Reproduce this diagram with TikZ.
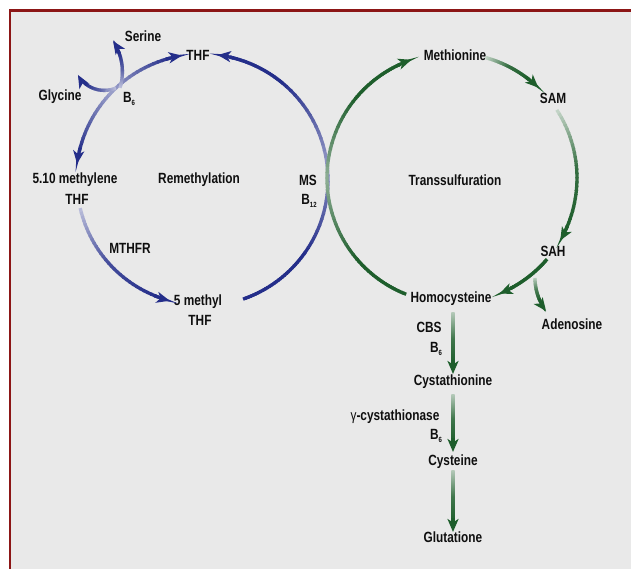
\documentclass[tikz,border=0pt]{standalone}
\usepackage{fontspec}
\setmainfont{Liberation Sans}[FakeStretch=0.8]
\usetikzlibrary{arrows.meta,calc}
\definecolor{bC}{RGB}{36,46,138}
\definecolor{gC}{RGB}{30,94,44}
\definecolor{bgC}{RGB}{233,233,233}
\definecolor{frC}{RGB}{140,22,22}
\definecolor{txC}{RGB}{15,15,15}
\tikzset{
  lbl/.style={font=\bfseries\fontsize{14.8}{16}\selectfont, text=txC, inner sep=1pt},
  tipst/.style={-{Stealth[length=13pt,width=11pt,inset=3.5pt]}, line width=3.3pt}
}
% gradient arc: #1 colour, #2 centre, #3 radius, #4 a0, #5 a1, #6 p0, #7 pmid, #8 p1, #9 arrows (0,1 end,2 both)
\newcommand\garc[9]{%
  \pgfmathsetmacro\gsg{sign(#5-#4)}%
  \pgfmathsetmacro\gda{12/#3*180/pi}%
  \pgfmathsetmacro\gbeg{#4+((#9>1)?(\gsg*\gda):0)}%
  \pgfmathsetmacro\gend{#5-((#9>0)?(\gsg*\gda):0)}%
  \foreach \k in {1,...,30}{%
    \pgfmathsetmacro\gxa{\gbeg+(\gend-\gbeg)*(\k-1)/30}%
    \pgfmathsetmacro\gxb{\gbeg+(\gend-\gbeg)*\k/30+((\k<30)?(0.6*\gsg):0)}%
    \pgfmathsetmacro\gfr{(\k-0.5)/30}%
    \pgfmathsetmacro\gpc{(\gfr<0.5)?(#6+(#7-#6)*\gfr*2):(#7+(#8-#7)*(\gfr*2-1))}%
    \draw[line width=3.3pt,#1!\gpc!white] ($(#2)+(\gxa:#3)$) arc[start angle=\gxa,end angle=\gxb,radius=#3];
  }%
  \ifnum#9>0
    \pgfmathsetmacro\gxa{\gend-2*\gsg}%
    \draw[tipst,#1!#8!white] ($(#2)+(\gxa:#3)$) arc[start angle=\gxa,end angle=#5,radius=#3];
  \fi
  \ifnum#9>1
    \pgfmathsetmacro\gxa{\gbeg+2*\gsg}%
    \draw[tipst,#1!#6!white] ($(#2)+(\gxa:#3)$) arc[start angle=\gxa,end angle=#4,radius=#3];
  \fi
}
\newcommand\bsub[2]{#1\raisebox{-3pt}{\fontsize{7.5}{7.5}\selectfont #2}}
\begin{document}
\begin{tikzpicture}[x=1pt,y=1pt]
\useasboundingbox (0,0) rectangle (631,569);
\fill[white] (0,0) rectangle (631,569);
\fill[bgC] (10,0) rectangle (631,558);
\draw[frC,line width=2.6pt] (10,0) -- (10,558.5) -- (631,558.5);

% centres
\coordinate (bc) at (202,389);
\coordinate (gc) at (452,391);
\coordinate (sc) at (67.4,497.2);
\coordinate (yc) at (104.2,508.6);
\coordinate (ac) at (590,291);

% labels
\node[lbl] (serine) at (143,533) {Serine};
\node[lbl] (thf1) at (198,514) {THF};
\node[lbl] (glycine) at (60,472) {Glycine};
\node[lbl] (b6a) at (129,470) {\bsub{B}{6}};
\node[lbl] (meth510) at (75,389) {5.10 methylene};
\node[lbl] (thf2) at (77,370) {THF};
\node[lbl] (remeth) at (199,389) {Remethylation};
\node[lbl] (ms) at (308,389) {MS};
\node[lbl] (b12) at (309,368) {\bsub{B}{12}};
\node[lbl] (mthfr) at (130,321) {MTHFR};
\node[lbl] (meth5) at (198,267) {5 methyl};
\node[lbl] (thf3) at (200,249) {THF};
\node[lbl] (methionine) at (455,514) {Methionine};
\node[lbl] (sam) at (553,471) {SAM};
\node[lbl] (trans) at (455,389) {Transsulfuration};
\node[lbl] (sah) at (553,318) {SAH};
\node[lbl] (homocys) at (451,270) {Homocysteine};
\node[lbl] (adenosine) at (572,245) {Adenosine};
\node[lbl] (cbs) at (429,242) {CBS};
\node[lbl] (b6b) at (436,220) {\bsub{B}{6}};
\node[lbl] (cystathionine) at (453,187) {Cystathionine};
\node[lbl] (gcyst) at (395,152) {{\mdseries γ}-cystathionase};
\node[lbl] (b6c) at (436,133) {\bsub{B}{6}};
\node[lbl] (cysteine) at (453,107) {Cysteine};
\node[lbl] (glutatione) at (453,32) {Glutatione};

% blue cycle
\garc{bC}{bc}{126}{172.6}{99.2}{100}{45}{100}{2}
\garc{bC}{bc}{126}{-71}{-35}{100}{100}{100}{0}
\garc{bC}{bc}{126}{-35.6}{50.6}{100}{50}{100}{0}
\garc{bC}{bc}{126}{50}{82.8}{100}{100}{100}{1}
\garc{bC}{bc}{125}{193}{255}{30}{85}{100}{1}
\garc{bC}{sc}{55}{-17}{34}{30}{75}{100}{1}
\garc{bC}{yc}{30}{-67}{-151}{30}{75}{100}{1}

% green cycle
\garc{gC}{gc}{125}{248.5}{220}{100}{100}{100}{0}
\garc{gC}{gc}{125}{220.6}{140}{100}{50}{100}{0}
\garc{gC}{gc}{125}{140.6}{109}{100}{100}{100}{1}
\garc{gC}{gc}{125}{74.6}{46.3}{25}{90}{100}{1}
\garc{gC}{gc}{125}{33}{-30}{25}{90}{100}{1}
\garc{gC}{gc}{125}{-40.5}{-67.7}{100}{100}{100}{1}
\garc{gC}{ac}{55}{180}{217}{30}{80}{100}{1}

% vertical chain
\coordinate (v1a) at (453,256); \coordinate (v1b) at (453,195);
\coordinate (v2a) at (453,174); \coordinate (v2b) at (453,117);
\coordinate (v3a) at (453,98);  \coordinate (v3b) at (453,37);
\foreach \s/\e in {v1a/v1b,v2a/v2b,v3a/v3b}{
  \shade[top color=gC!35!white,bottom color=gC,middle color=gC!85!white] ($(\s)+(-1.65,0)$) rectangle ($(\e)+(1.65,10)$);
  \draw[tipst,gC] ($(\e)+(0,14)$) -- (\e);
}
\end{tikzpicture}
\end{document}
